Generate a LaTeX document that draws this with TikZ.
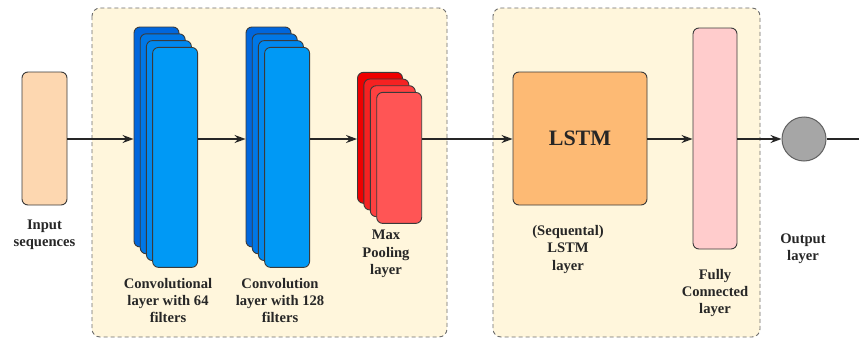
\documentclass[tikz,border=0pt]{standalone}
\usepackage{fontspec}
\setmainfont{Liberation Serif}
\usetikzlibrary{arrows.meta}
\definecolor{cream}{HTML}{FFF6DC}
\definecolor{peach}{HTML}{FDD7B0}
\definecolor{lstmc}{HTML}{FDBA74}
\definecolor{fcc}{HTML}{FFCCCC}
\definecolor{bA}{HTML}{0066DD}
\definecolor{bB}{HTML}{0077E6}
\definecolor{bC}{HTML}{0088EE}
\definecolor{bD}{HTML}{0099F5}
\definecolor{rA}{HTML}{EE0000}
\definecolor{rB}{HTML}{F52222}
\definecolor{rC}{HTML}{FF4040}
\definecolor{rD}{HTML}{FF5555}
\definecolor{edgec}{HTML}{3A3A3A}
\tikzset{
  layerbox/.style={draw=edgec, line width=0.9pt, rounded corners=6pt, inner sep=0pt},
  container/.style={draw=gray!85!black, fill=cream, dashed, dash pattern=on 4pt off 3pt, line width=0.9pt, rounded corners=8pt},
  lbl/.style={font=\bfseries\fontsize{14.6}{17.4}\selectfont, align=center, text=black!85},
  conn/.style={-{Stealth[length=11pt,width=8pt]}, line width=1.3pt, black!85},
  plain/.style={line width=1.3pt, black!85},
}
\begin{document}
\begin{tikzpicture}[x=1pt,y=-1pt]
\useasboundingbox (0,0) rectangle (859,340);
% containers
\draw[container] (92,8) rectangle (447,337);
\draw[container] (493,8) rectangle (760,337);
% input
\node[layerbox, fill=peach, minimum width=45pt, minimum height=133pt] (in) at (44.5,138.5) {};
\node[lbl] (inl) at (44.5,234.5) {Input\\sequences};
% conv1
\node[layerbox, fill=bA, minimum width=45pt, minimum height=220pt] (c1a) at (156.5,137) {};
\node[layerbox, fill=bB, minimum width=45pt, minimum height=220pt] (c1b) at (162.7,143.8) {};
\node[layerbox, fill=bC, minimum width=45pt, minimum height=220pt] (c1c) at (168.9,150.6) {};
\node[layerbox, fill=bD, minimum width=45pt, minimum height=220pt] (c1d) at (175.1,157.4) {};
\node[lbl] (c1l) at (168,300.5) {Convolutional\\layer with 64\\filters};
% conv2
\node[layerbox, fill=bA, minimum width=45pt, minimum height=220pt] (c2a) at (268.5,137) {};
\node[layerbox, fill=bB, minimum width=45pt, minimum height=220pt] (c2b) at (274.7,143.8) {};
\node[layerbox, fill=bC, minimum width=45pt, minimum height=220pt] (c2c) at (280.9,150.6) {};
\node[layerbox, fill=bD, minimum width=45pt, minimum height=220pt] (c2d) at (287.1,157.4) {};
\node[lbl] (c2l) at (280,300.5) {Convolution\\layer with 128\\filters};
% max pooling
\node[layerbox, fill=rA, minimum width=45pt, minimum height=131pt] (mpa) at (380,137.8) {};
\node[layerbox, fill=rB, minimum width=45pt, minimum height=131pt] (mpb) at (386.4,144.5) {};
\node[layerbox, fill=rC, minimum width=45pt, minimum height=131pt] (mpc) at (392.8,151.2) {};
\node[layerbox, fill=rD, minimum width=45pt, minimum height=131pt] (mpd) at (399.2,157.9) {};
\node[lbl] (mpl) at (386,254) {Max\\Pooling\\layer};
% LSTM
\node[layerbox, fill=lstmc, minimum width=134pt, minimum height=133pt, font=\bfseries\fontsize{22}{24}\selectfont, text=black!85] (lstm) at (580,138.5) {LSTM};
\node[lbl] (lstml) at (568,249.5) {(Sequental)\\LSTM\\layer};
% FC
\node[layerbox, fill=fcc, minimum width=44pt, minimum height=221pt] (fc) at (715,138.5) {};
\node[lbl] (fcl) at (715,293) {Fully\\Connected\\layer};
% output
\node[circle, draw=edgec!80, line width=1pt, fill=gray!70, minimum size=44pt, inner sep=0pt] (out) at (804,139) {};
\node[lbl] (outl) at (803,248.5) {Output\\layer};
\coordinate (end) at (859,139);
% connectors
\draw[conn] (in.east |- 0,139) -- (c1a.west |- 0,139);
\draw[conn] (c1d.east |- 0,139) -- (c2a.west |- 0,139);
\draw[conn] (c2d.east |- 0,139) -- (mpa.west |- 0,139);
\draw[conn] (mpd.east |- 0,139) -- (lstm.west |- 0,139);
\draw[conn] (lstm.east |- 0,139) -- (fc.west |- 0,139);
\draw[conn] (fc.east |- 0,139) -- (out.west);
\draw[plain] (out.east) -- (end);
\end{tikzpicture}
\end{document}
